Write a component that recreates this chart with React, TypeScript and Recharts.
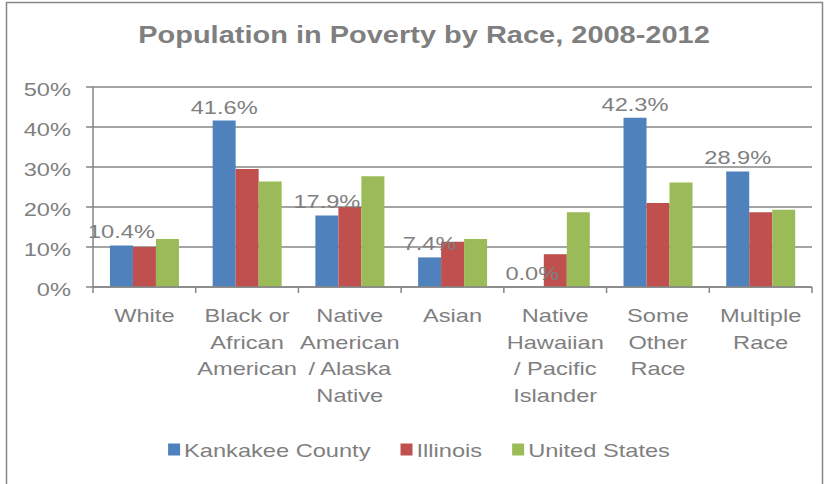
import React from 'react';
import { BarChart, Bar, XAxis, YAxis, CartesianGrid, LabelList } from 'recharts';

const title = 'Population in Poverty by Race, 2008-2012';

const categories = [
  'White',
  'Black or\nAfrican\nAmerican',
  'Native\nAmerican\n/ Alaska\nNative',
  'Asian',
  'Native\nHawaiian\n/ Pacific\nIslander',
  'Some\nOther\nRace',
  'Multiple\nRace',
];

const kankakee = [10.4, 41.6, 17.9, 7.4, 0.0, 42.3, 28.9];
const illinois = [10.0, 29.5, 20.0, 11.3, 8.2, 21.0, 18.7];
const unitedStates = [12.0, 26.4, 27.7, 12.0, 18.7, 26.1, 19.3];

const yTicks = [0, 10, 20, 30, 40, 50];

const seriesKeys = ['kankakee', 'illinois', 'us'];
const seriesNames = ['Kankakee County', 'Illinois', 'United States'];
const COLORS = ['#4F81BD', '#C0504D', '#9BBB59'];

const data = categories.map((name, i) => ({
  name,
  kankakee: kankakee[i],
  illinois: illinois[i],
  us: unitedStates[i],
}));

// the reference text looks stretched sideways, so every label is scaled in x
const STRETCH = 1.27;
const FONT = 'Arial, "Liberation Sans", sans-serif';
const FONT_SIZE = 18.6;
const TEXT = '#7f7f7f';
const LINE = '#868686';

const W = 828;
const H = 484;
const Y_AXIS_W = 93;
const RIGHT = 16;
const BAND = (W - Y_AXIS_W - RIGHT) / categories.length;

let ctx: CanvasRenderingContext2D | null = null;
const textWidth = (s: string) => {
  if (!ctx) ctx = document.createElement('canvas').getContext('2d');
  if (!ctx) return s.length * FONT_SIZE * 0.55;
  ctx.font = `${FONT_SIZE}px ${FONT}`;
  return ctx.measureText(s).width;
};

const StretchText = ({ x, y, anchor, children, ...rest }: any) => (
  <g transform={`translate(${x},${y})`}>
    <text
      transform={`scale(${STRETCH},1)`}
      textAnchor={anchor}
      fontSize={FONT_SIZE}
      fontFamily={FONT}
      fill={TEXT}
      {...rest}
    >
      {children}
    </text>
  </g>
);

const ValueTick = ({ x, y, payload }: any) => (
  <StretchText x={x} y={y} anchor="end" dy={8.7}>
    {`${payload.value}%`}
  </StretchText>
);

const CategoryTick = ({ x, y, payload, index }: any) => {
  const lines = String(payload.value).split('\n');
  const half = BAND / 2;
  return (
    <g>
      <line x1={x - half} x2={x - half} y1={y} y2={y + 6} stroke={LINE} strokeWidth={1.5} />
      {index === categories.length - 1 && (
        <line x1={x + half} x2={x + half} y1={y} y2={y + 6} stroke={LINE} strokeWidth={1.5} />
      )}
      <StretchText x={x} y={y} anchor="middle">
        {lines.map((l, i) => (
          <tspan key={i} x={0} y={35 + i * 26.7}>
            {l}
          </tspan>
        ))}
      </StretchText>
    </g>
  );
};

const ValueLabel = ({ x, y, width, value }: any) => (
  <StretchText x={x + width / 2} y={y - 7} anchor="middle">
    {`${Number(value).toFixed(1)}%`}
  </StretchText>
);

const Legend = () => {
  const items = seriesNames.map((n) => ({ n, w: 12 + 4 + textWidth(n) * STRETCH }));
  const gap = 30;
  const total = items.reduce((a, b) => a + b.w, 0) + gap * (items.length - 1);
  let cur = 419 - total / 2;
  return (
    <g>
      {items.map((it, i) => {
        const x0 = cur;
        cur += it.w + gap;
        return (
          <g key={it.n}>
            <rect x={x0} y={443.5} width={12} height={12} fill={COLORS[i]} />
            <StretchText x={x0 + 16} y={456.7} anchor="start">
              {it.n}
            </StretchText>
          </g>
        );
      })}
    </g>
  );
};

const App = () => {
  return (
    <div
      style={{
        position: 'absolute',
        left: 0,
        top: 0,
        width: W,
        height: H,
        background: '#fff',
        overflow: 'hidden',
      }}
    >
      <div style={{ position: 'absolute', left: 0, top: 0 }}>
        <BarChart
          width={W}
          height={H}
          data={data}
          margin={{ top: 87, right: RIGHT, left: 0, bottom: 0 }}
          barCategoryGap="16.5%"
          barGap={0}
        >
          <CartesianGrid vertical={false} stroke={LINE} strokeWidth={1.5} />
          <YAxis
            width={Y_AXIS_W}
            domain={[0, 50]}
            ticks={yTicks}
            interval={0}
            axisLine={{ stroke: LINE, strokeWidth: 1.5 }}
            tickLine={{ stroke: LINE, strokeWidth: 1.5 }}
            tickSize={7}
            tickMargin={15}
            tick={<ValueTick />}
          />
          <XAxis
            dataKey="name"
            height={197}
            interval={0}
            axisLine={{ stroke: LINE, strokeWidth: 1.5 }}
            tickLine={false}
            tickSize={0}
            tickMargin={0}
            tick={<CategoryTick />}
          />
          {seriesKeys.map((k, i) => (
            <Bar
              key={k}
              dataKey={k}
              name={seriesNames[i]}
              fill={COLORS[i]}
              minPointSize={i === 0 ? 0.01 : 0}
              isAnimationActive={false}
            >
              {i === 0 && <LabelList dataKey={k} content={<ValueLabel />} />}
            </Bar>
          ))}
        </BarChart>
      </div>

      <svg
        width={W}
        height={H}
        style={{ position: 'absolute', left: 0, top: 0, pointerEvents: 'none' }}
      >
        <rect x={6.5} y={2.5} width={816} height={520} fill="none" stroke={LINE} strokeWidth={1.5} />
        <g transform="translate(424,43)">
          <text
            transform="scale(1.26,1)"
            textAnchor="middle"
            fontSize={23}
            fontWeight="bold"
            fontFamily={FONT}
            fill={TEXT}
          >
            {title}
          </text>
        </g>
        <Legend />
      </svg>
    </div>
  );
};

export default App;
